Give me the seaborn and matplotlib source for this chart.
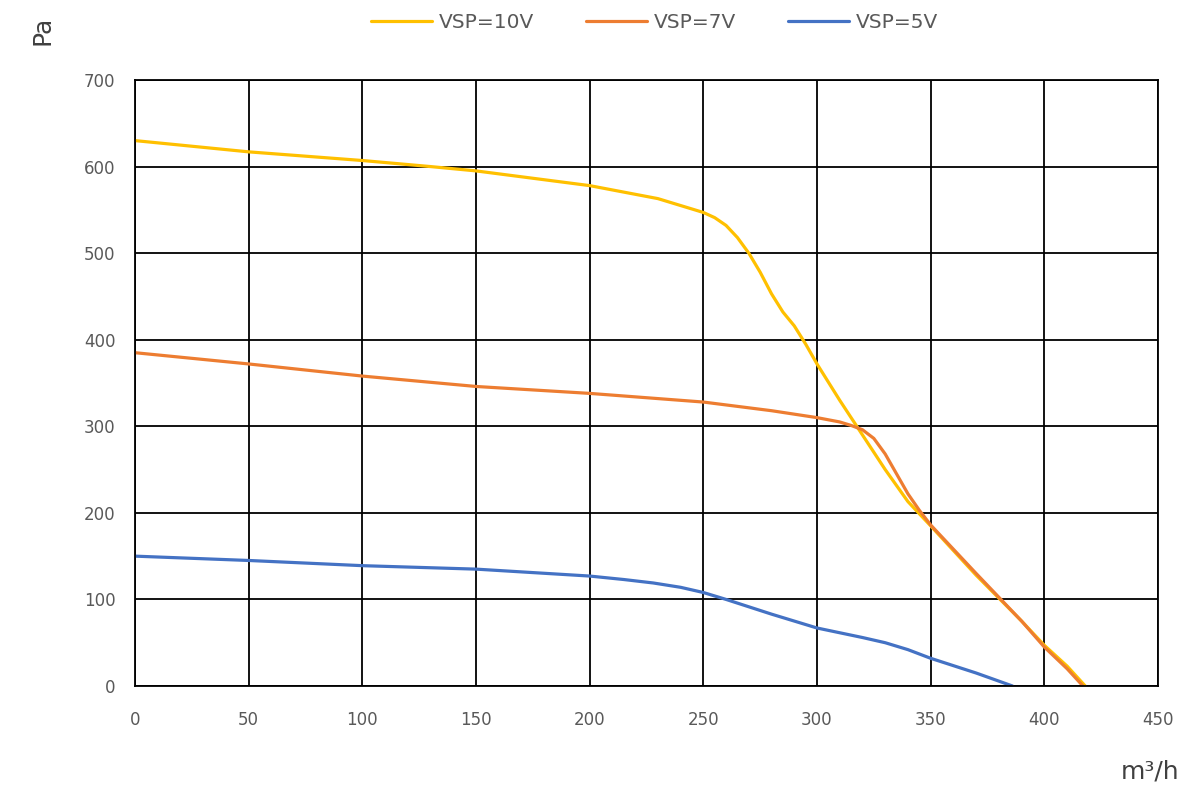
import numpy as np
import pandas as pd
import matplotlib
matplotlib.use('Agg')
import matplotlib.pyplot as plt
import seaborn as sns

# fan curves (airflow m3/h, pressure Pa)
flow_10v = [0, 50, 100, 130, 150, 200, 230, 245, 250, 255, 260, 265, 270, 275, 280, 285, 290, 295,
            300, 310, 320, 330, 340, 350, 370, 390, 400, 410, 418]
pa_10v = [630, 617, 607, 600, 595, 578, 563, 551, 547, 541, 532, 518, 500, 478, 453, 432, 416, 395,
          372, 330, 290, 250, 213, 185, 128, 75, 47, 23, 0]

flow_7v = [0, 50, 100, 150, 200, 250, 280, 300, 310, 315, 320, 325, 330, 335, 340, 345, 350,
           370, 390, 400, 410, 417]
pa_7v = [385, 372, 358, 346, 338, 328, 318, 310, 305, 301, 296, 286, 268, 245, 222, 203, 186,
         130, 75, 45, 20, 0]

flow_5v = [0, 50, 100, 150, 200, 215, 228, 240, 250, 260, 280, 300, 320, 330, 340, 350, 370, 386]
pa_5v = [150, 145, 139, 135, 127, 123, 119, 114, 108, 100, 83, 67, 56, 50, 42, 32, 15, 0]

series_names = ['VSP=10V', 'VSP=7V', 'VSP=5V']
colors = ['#FFC000', '#ED7D31', '#4472C4']

df = pd.concat([
    pd.DataFrame({'flow': flow_10v, 'pa': pa_10v, 'series': series_names[0]}),
    pd.DataFrame({'flow': flow_7v, 'pa': pa_7v, 'series': series_names[1]}),
    pd.DataFrame({'flow': flow_5v, 'pa': pa_5v, 'series': series_names[2]}),
])

sns.set_style('white')
plt.rcParams['font.family'] = ['DejaVu Sans']

fig = plt.figure(figsize=(12, 8), dpi=100)
ax = fig.add_axes([0.1125, 0.1425, 0.8525, 0.7575])

sns.lineplot(data=df, x='flow', y='pa', hue='series', palette=colors,
             hue_order=series_names, sort=False, linewidth=2.3, ax=ax, legend=True)

ax.set_xlim(0, 450)
ax.set_ylim(0, 700)
ax.set_xticks(np.arange(0, 451, 50))
ax.set_yticks(np.arange(0, 701, 100))
ax.grid(True, color='black', linewidth=1.3)
ax.set_axisbelow(True)
for s in ax.spines.values():
    s.set_color('black')
    s.set_linewidth(1.3)
ax.tick_params(axis='both', length=0, labelsize=12, colors='#595959')
ax.tick_params(axis='x', pad=18)
ax.tick_params(axis='y', pad=14)
ax.set_xlabel('')
ax.set_ylabel('')

leg = ax.legend(loc='center', bbox_to_anchor=(0.508, 1.095), ncol=3, frameon=False,
                fontsize=14.5, handlelength=3.0, columnspacing=2.6, handletextpad=0.35)
for t in leg.get_texts():
    t.set_color('#595959')

fig.text(0.035, 0.962, 'Pa', rotation=90, fontsize=18, color='#404040', ha='center', va='center')
fig.text(0.958, 0.036, 'm³/h', fontsize=18, color='#404040', ha='center', va='center')

fig.savefig('out.png', dpi=100)
